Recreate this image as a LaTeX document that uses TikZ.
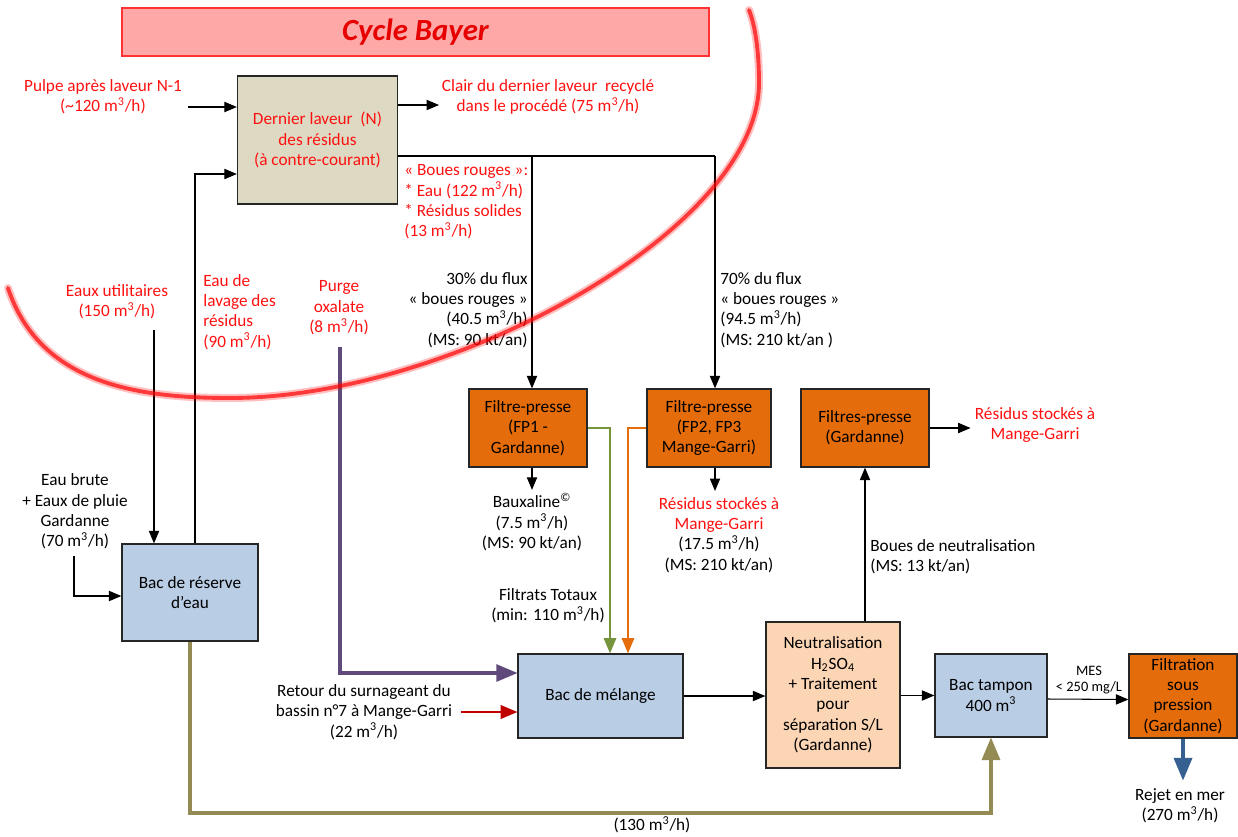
\documentclass[tikz,border=0pt]{standalone}
\usepackage{fontspec}
\setmainfont{Carlito}
\usetikzlibrary{positioning,arrows,calc}

\definecolor{texterouge}{HTML}{FF1010}
\definecolor{titrerouge}{HTML}{E60000}
\definecolor{titrefond}{HTML}{FFA8A8}
\definecolor{beige}{HTML}{DDD9C3}
\definecolor{bleubac}{HTML}{B9CDE5}
\definecolor{orangefp}{HTML}{E46C0A}
\definecolor{peche}{HTML}{FCD5B5}
\definecolor{vertfiltrat}{HTML}{77933C}
\definecolor{violetpurge}{HTML}{604A7B}
\definecolor{olive}{HTML}{948A54}
\definecolor{bleurejet}{HTML}{376092}
\definecolor{rougeretour}{HTML}{C00000}

\begin{document}
\begin{tikzpicture}[
      x=0.02cm, y=-0.02cm,
      every node/.style={
        font=\fontsize{9.8}{11.6}\selectfont,
        inner sep=0pt
      },
      boite/.style={
        draw=black!85,
        line width=0.8pt,
        align=center
      },
      laveur/.style={boite, fill=beige, text=texterouge},
      bac/.style={boite, fill=bleubac},
      filtre/.style={boite, fill=orangefp},
      traitement/.style={boite, fill=peche},
      rouge/.style={text=texterouge, align=center},
      legende/.style={align=center},
      arr/.style={
        ->,
        >=triangle 45,
        line width=0.6pt
      },
      filtrat/.style={arr, line width=1pt},
      epais/.style={arr, line width=1.8pt},
      cycle/.style={red, line cap=round}
    ]
    \useasboundingbox (0,0) rectangle (1238,836) ;

    % boites
    \node[draw=red!80, fill=titrefond, line width=0.8pt, minimum width=11.74cm, minimum height=0.96cm,
          text=titrerouge, font=\fontsize{17.5}{20}\selectfont\bfseries\itshape] (titre) at (415.5,32) {Cycle Bayer} ;
    \node[laveur, minimum width=3.2cm, minimum height=2.56cm] (laveur) at (317.5,140)
         {Dernier laveur~ (N)\\des résidus\\(à contre-courant)} ;
    \node[filtre, minimum width=2.36cm, minimum height=1.56cm] (fp1) at (528,428) {Filtre-presse\\(FP1 -\\Gardanne)} ;
    \node[filtre, minimum width=2.48cm, minimum height=1.56cm] (fp2) at (709,428) {Filtre-presse\\(FP2, FP3\\Mange-Garri)} ;
    \node[filtre, minimum width=2.56cm, minimum height=1.56cm] (fpg) at (865,428) {Filtres-presse\\(Gardanne)} ;
    \node[bac, minimum width=2.72cm, minimum height=1.94cm] (reserve) at (190,592.5) {Bac de réserve\\d’eau} ;
    \node[bac, minimum width=3.3cm, minimum height=1.68cm] (melange) at (600.5,696) {Bac de mélange} ;
    \node[traitement, minimum width=2.68cm, minimum height=2.92cm] (neutra) at (833,695)
         {Neutralisation\\H\textsubscript{2}SO\textsubscript{4}\\+ Traitement\\pour\\séparation S/L\\(Gardanne)} ;
    \node[bac, minimum width=2.24cm, minimum height=1.66cm] (tampon) at (991,695.5) {Bac tampon\\400 m\textsuperscript{3}} ;
    \node[filtre, minimum width=2.16cm, minimum height=1.68cm] (filtration) at (1183,696)
         {Filtration\\sous\\pression\\(Gardanne)} ;

    % textes
    \node[rouge] (pulpe) at (103,97) {Pulpe après laveur N-1\\(\textasciitilde120 m\textsuperscript{3}/h)} ;
    \node[rouge] (clair) at (548,97) {Clair du dernier laveur~ recyclé\\dans le procédé (75 m\textsuperscript{3}/h)} ;
    \node[rouge, anchor=west, align=left] (boues) at (404,202)
         {« Boues rouges »:\\* Eau (122 m\textsuperscript{3}/h)\\* Résidus solides\\(13 m\textsuperscript{3}/h)} ;
    \node[rouge] (util) at (117,302) {Eaux utilitaires\\(150 m\textsuperscript{3}/h)} ;
    \node[rouge, anchor=west, align=left] (lavage) at (203,312) {Eau de\\lavage des\\résidus\\(90 m\textsuperscript{3}/h)} ;
    \node[rouge] (purge) at (339,308) {Purge\\oxalate\\(8 m\textsuperscript{3}/h)} ;
    \node[anchor=east, align=right] (flux30) at (528,310)
         {30\% du flux\\« boues rouges »\\(40.5 m\textsuperscript{3}/h)\\(MS: 90 kt/an)} ;
    \node[anchor=west, align=left] (flux70) at (720,310)
         {70\% du flux\\« boues rouges »\\(94.5 m\textsuperscript{3}/h)\\(MS: 210 kt/an )} ;
    \node[legende] (bauxaline) at (532,522) {Bauxaline\textsuperscript{\textcopyright}\\(7.5 m\textsuperscript{3}/h)\\(MS: 90 kt/an)} ;
    \node[legende] (stockfp2) at (719,535)
         {\textcolor{texterouge}{Résidus stockés à}\\\textcolor{texterouge}{Mange-Garri}\\(17.5 m\textsuperscript{3}/h)\\(MS: 210 kt/an)} ;
    \node[rouge] (stockfpg) at (1035,425) {Résidus stockés à\\Mange-Garri} ;
    \node[legende] (filtrats) at (548,606) {Filtrats Totaux\\(min: 110 m\textsuperscript{3}/h)} ;
    \node[anchor=west, align=left] (bneutra) at (870,557) {Boues de neutralisation\\(MS: 13 kt/an)} ;
    \node[legende] (brute) at (75,511.5) {Eau brute\\+ Eaux de pluie\\Gardanne\\(70 m\textsuperscript{3}/h)} ;
    \node[legende] (retour) at (364,712) {Retour du surnageant du\\bassin n°7 à Mange-Garri\\(22 m\textsuperscript{3}/h)} ;
    \node[legende, font=\fontsize{8.2}{9.6}\selectfont] (mes) at (1089,680) {MES\\< 250 mg/L} ;
    \node[legende] (debit130) at (652,825) {(130 m\textsuperscript{3}/h)} ;
    \node[legende] (rejet) at (1180,806) {Rejet en mer\\(270 m\textsuperscript{3}/h)} ;

    % points de passage
    \coordinate (pulpe-fin) at (188,107) ;
    \coordinate (sortie-clair) at (439,105) ;
    \coordinate (bif1) at (532,156) ;
    \coordinate (bif2) at (715,156) ;
    \coordinate (retour-lav) at (195,174) ;
    \coordinate (util-deb) at (154,330) ;
    \coordinate (brute-deb) at (74,556) ;
    \coordinate (purge-deb) at (340,347) ;
    \coordinate (fond) at (652,813) ;

    \draw[arr] (pulpe-fin) -- (pulpe-fin -| laveur.west) ;
    \draw[arr] (sortie-clair -| laveur.east) -- (sortie-clair) ;
    \draw[line width=0.6pt] (bif1 -| laveur.east) -- (bif2) ;
    \draw[arr] (bif1) -- (bif1 |- fp1.north) ;
    \draw[arr] (bif2) -- (bif2 |- fp2.north) ;
    \draw[arr] (retour-lav |- reserve.north) -- (retour-lav) -- (retour-lav -| laveur.west) ;
    \draw[arr] (util-deb) -- (util-deb |- reserve.north) ;
    \draw[arr] (brute-deb) |- ([yshift=-0.07cm]reserve.west) ;
    \draw[arr] (bif1 |- fp1.south) -- ([yshift=0.06cm]bif1 |- bauxaline.north) ;
    \draw[arr] (bif2 |- fp2.south) -- ([yshift=0.12cm]bif2 |- stockfp2.north) ;
    \draw[arr] (fpg.east) -- ([xshift=-0.08cm]fpg.east -| stockfpg.west) ;
    \draw[filtrat, vertfiltrat] (fp1.east) -| ([xshift=0.19cm]melange.north) ;
    \draw[filtrat, orangefp] (fp2.west) -| ([xshift=0.55cm]melange.north) ;
    \draw[epais, violetpurge] (purge-deb) |- ([yshift=0.46cm]melange.west) ;
    \draw[arr, rougeretour, line width=1.2pt] ([xshift=0.18cm]retour.east) -- (retour.east -| melange.west) ;
    \draw[arr] (melange.east) -- (melange.east -| neutra.west) ;
    \draw[arr] (fpg.south |- neutra.north) -- (fpg.south) ;
    \draw[arr] (neutra.east |- tampon.west) -- (tampon.west) ;
    \draw[arr] ([yshift=-0.07cm]tampon.east) -- ([yshift=-0.07cm]filtration.west) ;
    \draw[epais, olive, line width=2pt] (reserve.south) |- (fond) -| (tampon.south) ;
    \draw[epais, bleurejet, line width=2pt] (filtration.south) -- ([yshift=0.16cm]filtration.south |- rejet.north) ;

    % cycle Bayer
    \draw[cycle, line width=4.5pt, opacity=0.25] (8,288) .. controls (40,385) and (140,398) .. (230,398)
         .. controls (450,398) and (759,230) .. (759,83) .. controls (759,50) and (755,25) .. (749,10) ;
    \draw[cycle, line width=2.2pt, opacity=0.7] (8,288) .. controls (40,385) and (140,398) .. (230,398)
         .. controls (450,398) and (759,230) .. (759,83) .. controls (759,50) and (755,25) .. (749,10) ;
  \end{tikzpicture}
\end{document}
